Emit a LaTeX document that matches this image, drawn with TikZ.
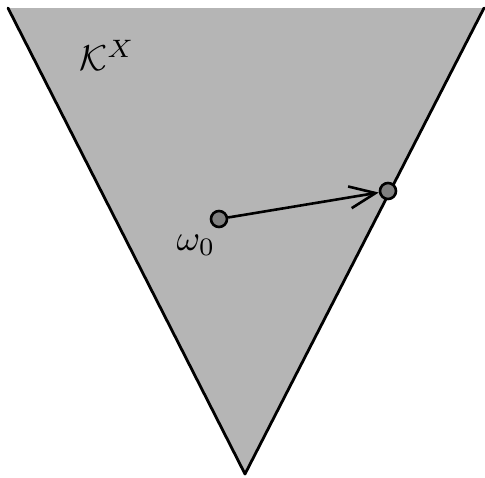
\documentclass[tikz,border=0pt]{standalone}
\usetikzlibrary{arrows.meta}
\definecolor{conegray}{gray}{0.71}
\definecolor{ptgray}{gray}{0.5}
\tikzset{
  edge/.style={line width=2.8pt, line cap=round, line join=round},
  pt/.style={circle, draw, line width=2.6pt, fill=ptgray, minimum size=16pt, inner sep=0pt},
  lbl/.style={font=\normalsize, scale=3.6, inner sep=0pt}
}
\begin{document}
\begin{tikzpicture}[x=1pt,y=-1pt]
\useasboundingbox (0,0) rectangle (485,477);
\coordinate (tl) at (8,8);
\coordinate (tr) at (484,8);
\coordinate (ap) at (245,474);
\fill[conegray] (tl) -- (tr) -- (ap) -- cycle;
\draw[edge] (tl) -- (ap) -- (tr);
\node[lbl] (K) at (107,55) {$\mathcal{K}^X$};
\node[pt] (w) at (219,219) {};
\node[pt] (p) at (388,191) {};
\node[lbl] (wl) at (196,245) {$\omega_0$};
\draw[line width=2.6pt, -{Straight Barb[length=26pt,width=22pt,line width=2.6pt]}] (w) -- (p);
\end{tikzpicture}
\end{document}
